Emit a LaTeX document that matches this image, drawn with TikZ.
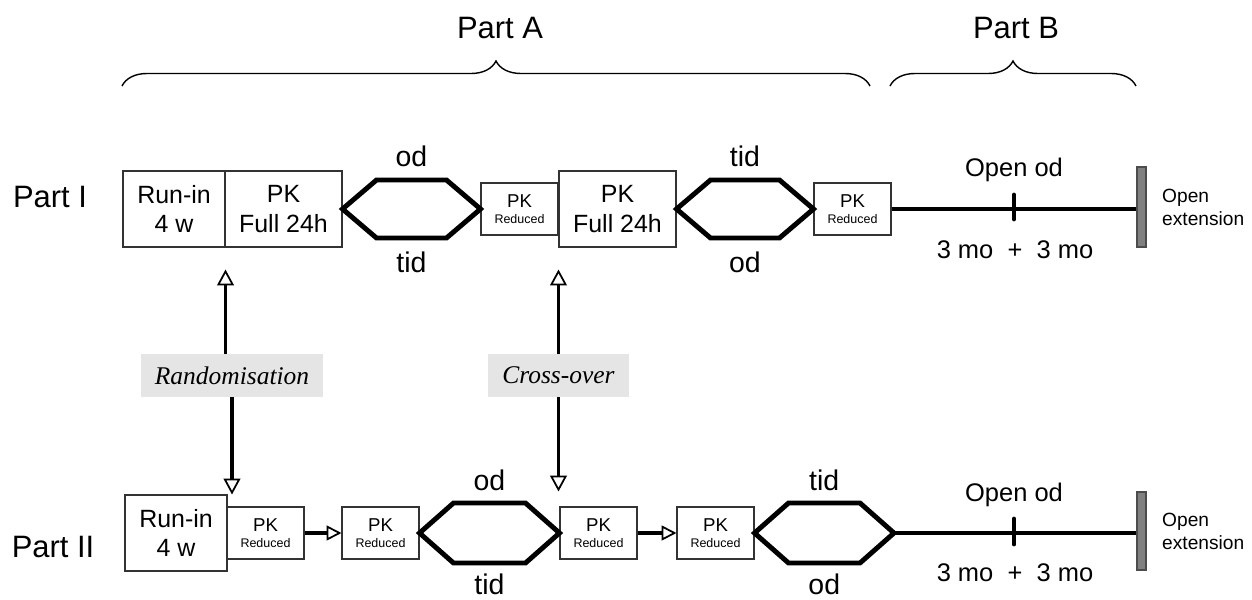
\documentclass[tikz,border=0pt]{standalone}
\usepackage{fontspec}
\setmainfont{Liberation Sans}
\newfontfamily\serifit{Liberation Serif}
\usetikzlibrary{arrows.meta, calc, decorations.pathreplacing}
\newcommand{\pkred}{PK\\[-1pt]{\fontsize{7.1}{8}\selectfont Reduced}}

\begin{document}
\begin{tikzpicture}[x=0.02cm, y=-0.02cm,
        box/.style={draw=black!80, line width=0.6pt, fill=white, inner sep=0pt, align=center},
        runbox/.style={box, minimum width=2.04cm, minimum height=1.52cm, font=\fontsize{14.2}{17}\selectfont},
        fullbox/.style={runbox, minimum width=2.34cm},
        pkbox/.style={box, minimum width=1.54cm, minimum height=1.04cm, font=\fontsize{10.6}{10}\selectfont},
        hexline/.style={line width=2.8pt},
        openline/.style={line width=2.5pt},
        tickline/.style={line width=2.8pt, line cap=round},
        bar/.style={draw=black!70, fill=black!50, line width=0.6pt, inner sep=0pt, minimum width=0.18cm},
        dose/.style={font=\fontsize{16.2}{18}\selectfont, inner sep=1pt},
        period/.style={font=\fontsize{14.5}{17}\selectfont},
        extlabel/.style={anchor=west, align=left, font=\fontsize{10.9}{13}\selectfont},
        rowlabel/.style={font=\fontsize{17.6}{20}\selectfont},
        event/.style={fill=black!10, inner sep=0pt, minimum width=3.64cm, minimum height=0.86cm, font=\serifit\itshape\fontsize{14.5}{17}\selectfont},
        uparrow/.style={line width=2pt, -{Triangle[fill=white, length=9pt, width=9.5pt, line width=1pt]}},
        flowarrow/.style={line width=2.3pt, -{Triangle[fill=white, length=8.5pt, width=8.5pt, line width=1pt]}},
        brace/.style={decorate, decoration={brace, amplitude=0.5cm}, line width=0.8pt}]
    \useasboundingbox (0,0) rectangle (1252,599);

    % parts A and B
    \draw[brace] (122,86) -- (870,86);
    \draw[brace] (890,86) -- (1136,86);
    \node[rowlabel] (partA) at (500,28) {Part A};
    \node[rowlabel] (partB) at (1016,28) {Part B};

    % Part I
    \node[rowlabel] (part1) at (50,197) {Part I};
    \node[runbox] (run1) at (174,209) {Run-in\\4 w};
    \node[fullbox] (pkf1) at (283.5,209) {PK\\Full 24h};
    \node[pkbox] (pkr1) at (519.5,209) {\pkred};
    \node[fullbox] (pkf2) at (617.5,209) {PK\\Full 24h};
    \node[pkbox] (pkr2) at (852.5,209) {\pkred};
    \node[bar, minimum height=1.6cm] (bar1) at (1141.5,207) {};
    \node[extlabel] (ext1) at (1156,207) {Open\\extension};

    \draw[hexline] (pkf1.east) -- ++(34,-29) -- ($(pkr1.west)+(-34,-29)$) -- (pkr1.west)
        -- ($(pkr1.west)+(-34,29)$) -- ($(pkf1.east)+(34,29)$) -- cycle;
    \draw[hexline] (pkf2.east) -- ++(34,-29) -- ($(pkr2.west)+(-34,-29)$) -- (pkr2.west)
        -- ($(pkr2.west)+(-34,29)$) -- ($(pkf2.east)+(34,29)$) -- cycle;
    \node[dose] (od1) at ($(pkf1.east)!0.5!(pkr1.west)+(0,-53)$) {od};
    \node[dose] (tid1) at ($(pkf1.east)!0.5!(pkr1.west)+(0,53)$) {tid};
    \node[dose] (tid2) at ($(pkf2.east)!0.5!(pkr2.west)+(0,-53)$) {tid};
    \node[dose] (od2) at ($(pkf2.east)!0.5!(pkr2.west)+(0,53)$) {od};

    \draw[openline] (pkr2.east) -- (pkr2.east -| bar1.west);
    \draw[tickline] (1014,195) -- (1014,219);
    \node[period] (open1) at (1014,170) {Open od};
    \node[period] (mo1) at (1015,250) {3 mo\ \ +\ \ 3 mo};

    % randomisation and cross-over
    \node[event] (rand) at (232,375.5) {Randomisation};
    \node[event, minimum width=2.82cm] (cross) at (558.5,375.5) {Cross-over};

    % Part II
    \node[rowlabel] (part2) at (53,547) {Part II};
    \node[runbox] (run2) at (176,533) {Run-in\\4 w};
    \node[pkbox] (pkr3) at (265.5,533) {\pkred};
    \node[pkbox] (pkr4) at (380.5,533) {\pkred};
    \node[pkbox] (pkr5) at (598.5,533) {\pkred};
    \node[pkbox] (pkr6) at (715.5,533) {\pkred};
    \coordinate (hexend) at (894,533);
    \node[bar, minimum height=1.56cm] (bar2) at (1141.5,531) {};
    \node[extlabel] (ext2) at (1156,531) {Open\\extension};

    \draw[flowarrow] (pkr3.east) -- (pkr4.west);
    \draw[flowarrow] (pkr5.east) -- (pkr6.west);
    \draw[hexline] (pkr4.east) -- ++(34,-30) -- ($(pkr5.west)+(-34,-30)$) -- (pkr5.west)
        -- ($(pkr5.west)+(-34,30)$) -- ($(pkr4.east)+(34,30)$) -- cycle;
    \draw[hexline] (pkr6.east) -- ++(34,-30) -- ($(hexend)+(-34,-30)$) -- (hexend)
        -- ($(hexend)+(-34,30)$) -- ($(pkr6.east)+(34,30)$) -- cycle;
    \node[dose] (od3) at ($(pkr4.east)!0.5!(pkr5.west)+(0,-53)$) {od};
    \node[dose] (tid3) at ($(pkr4.east)!0.5!(pkr5.west)+(0,51)$) {tid};
    \node[dose] (tid4) at ($(pkr6.east)!0.5!(hexend)+(0,-53)$) {tid};
    \node[dose] (od4) at ($(pkr6.east)!0.5!(hexend)+(0,51)$) {od};

    \draw[openline] (hexend) -- (hexend -| bar2.west);
    \draw[tickline] (1014,519) -- (1014,544);
    \node[period] (open2) at (1014,495) {Open od};
    \node[period] (mo2) at (1015,573) {3 mo\ \ +\ \ 3 mo};

    % arrows between the two parts
    \draw[uparrow] (rand.north -| run1.east) -- ($(run1.south east)+(0,22)$);
    \draw[uparrow] (rand.south) -- (rand.south |- run2.north);
    \draw[uparrow] (cross.north -| pkf2.west) -- ($(pkf2.south west)+(0,22)$);
    \draw[uparrow] (cross.south) -- ($(cross.south |- pkr5.north)+(0,-15)$);
\end{tikzpicture}
\end{document}
